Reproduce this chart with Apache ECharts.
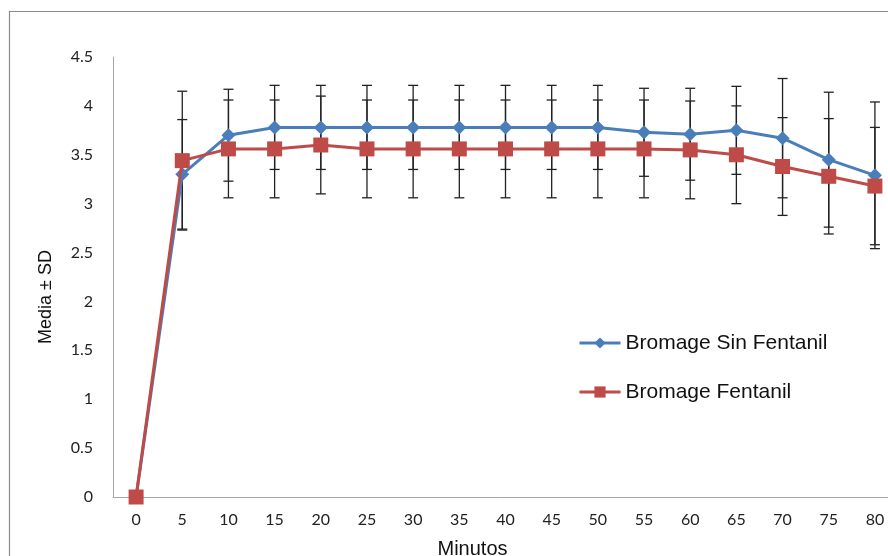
<!DOCTYPE html>
<html>
<head>
<meta charset="utf-8">
<script src="https://cdn.jsdelivr.net/npm/echarts@6/dist/echarts.min.js"></script>
<style>html,body{margin:0;padding:0;background:#fff;}#c{width:888px;height:556px;}</style>
</head>
<body>
<div id="c"></div>
<script>
const categories = ['0','5','10','15','20','25','30','35','40','45','50','55','60','65','70','75','80'];
const sinFentanil = [0,3.3,3.7,3.78,3.78,3.78,3.78,3.78,3.78,3.78,3.78,3.73,3.71,3.75,3.67,3.45,3.29];
const sinFentanilSD = [0,0.56,0.47,0.43,0.43,0.43,0.43,0.43,0.43,0.43,0.43,0.45,0.47,0.45,0.61,0.69,0.75];
const fentanil = [0,3.44,3.56,3.56,3.6,3.56,3.56,3.56,3.56,3.56,3.56,3.56,3.55,3.5,3.38,3.28,3.18];
const fentanilSD = [0,0.71,0.5,0.5,0.5,0.5,0.5,0.5,0.5,0.5,0.5,0.5,0.5,0.5,0.5,0.59,0.6];
const seriesNames = ['Bromage Sin Fentanil','Bromage Fentanil'];

function errData(mean, sd){
  return mean.map((m,i)=>[i, m - sd[i], m + sd[i]]);
}
function errRender(params, api){
  const x = api.value(0);
  const lo = api.coord([x, api.value(1)]);
  const hi = api.coord([x, api.value(2)]);
  if (Math.abs(lo[1]-hi[1]) < 0.5) return null;
  const w = 5;
  const st = {stroke:'#222', lineWidth:1.3};
  return {type:'group', children:[
    {type:'line', shape:{x1:lo[0],y1:lo[1],x2:hi[0],y2:hi[1]}, style:st},
    {type:'line', shape:{x1:lo[0]-w,y1:lo[1],x2:lo[0]+w,y2:lo[1]}, style:st},
    {type:'line', shape:{x1:hi[0]-w,y1:hi[1],x2:hi[0]+w,y2:hi[1]}, style:st}
  ]};
}

const chart = echarts.init(document.getElementById('c'), null, {renderer:'canvas'});
chart.setOption({
  animation:false,
  backgroundColor:'#fff',
  graphic:[{type:'rect', shape:{x:9.5, y:11.5, width:900, height:560}, style:{fill:'none', stroke:'#8c8c8c', lineWidth:1.2}, silent:true, z:-10}],
  grid:{left:113, top:57, width:785, height:440, outerBoundsMode:'none', containLabel:false},
  legend:{
    orient:'vertical', left:573, top:327.5, itemWidth:41, itemHeight:14, itemGap:28,
    lineStyle:{width:3},
    textStyle:{fontFamily:'Liberation Sans, Arial', fontSize:21, color:'#111'},
    data:seriesNames
  },
  xAxis:{
    type:'category', data:categories, boundaryGap:true,
    name:'Minutos', nameLocation:'middle', nameGap:42,
    nameTextStyle:{fontFamily:'Liberation Sans, Arial', fontSize:20, color:'#111', padding:[0,66,0,0]},
    axisLine:{lineStyle:{color:'#a6a6a6', width:1}},
    axisTick:{show:false},
    axisLabel:{fontFamily:'Lato, Calibri, sans-serif', fontSize:16, color:'#222', margin:15},
    splitLine:{show:false}
  },
  yAxis:{
    type:'value', min:0, max:4.5, interval:0.5,
    name:'Media ± SD', nameLocation:'middle', nameGap:58, nameRotate:90,
    nameTextStyle:{fontFamily:'Liberation Sans, Arial', fontSize:18, color:'#111', padding:[0,40,0,0]},
    axisLine:{show:true, lineStyle:{color:'#a6a6a6', width:1}},
    axisTick:{show:false},
    axisLabel:{fontFamily:'Lato, Calibri, sans-serif', fontSize:16, color:'#222', margin:20},
    splitLine:{show:false}
  },
  series:[
    {type:'custom', name:'err1', renderItem:errRender, data:errData(sinFentanil, sinFentanilSD), z:1, encode:{x:0, y:[1,2]}, silent:true},
    {type:'custom', name:'err2', renderItem:errRender, data:errData(fentanil, fentanilSD), z:1, encode:{x:0, y:[1,2]}, silent:true},
    {type:'line', name:seriesNames[0], data:sinFentanil, z:3,
      symbol:'diamond', symbolSize:14, showAllSymbol:true,
      itemStyle:{color:'#4a7ebb'}, lineStyle:{color:'#4a7ebb', width:3}},
    {type:'line', name:seriesNames[1], data:fentanil, z:4,
      symbol:'rect', symbolSize:15, showAllSymbol:true,
      itemStyle:{color:'#be4b48'}, lineStyle:{color:'#be4b48', width:3}}
  ]
});
</script>
</body>
</html>
